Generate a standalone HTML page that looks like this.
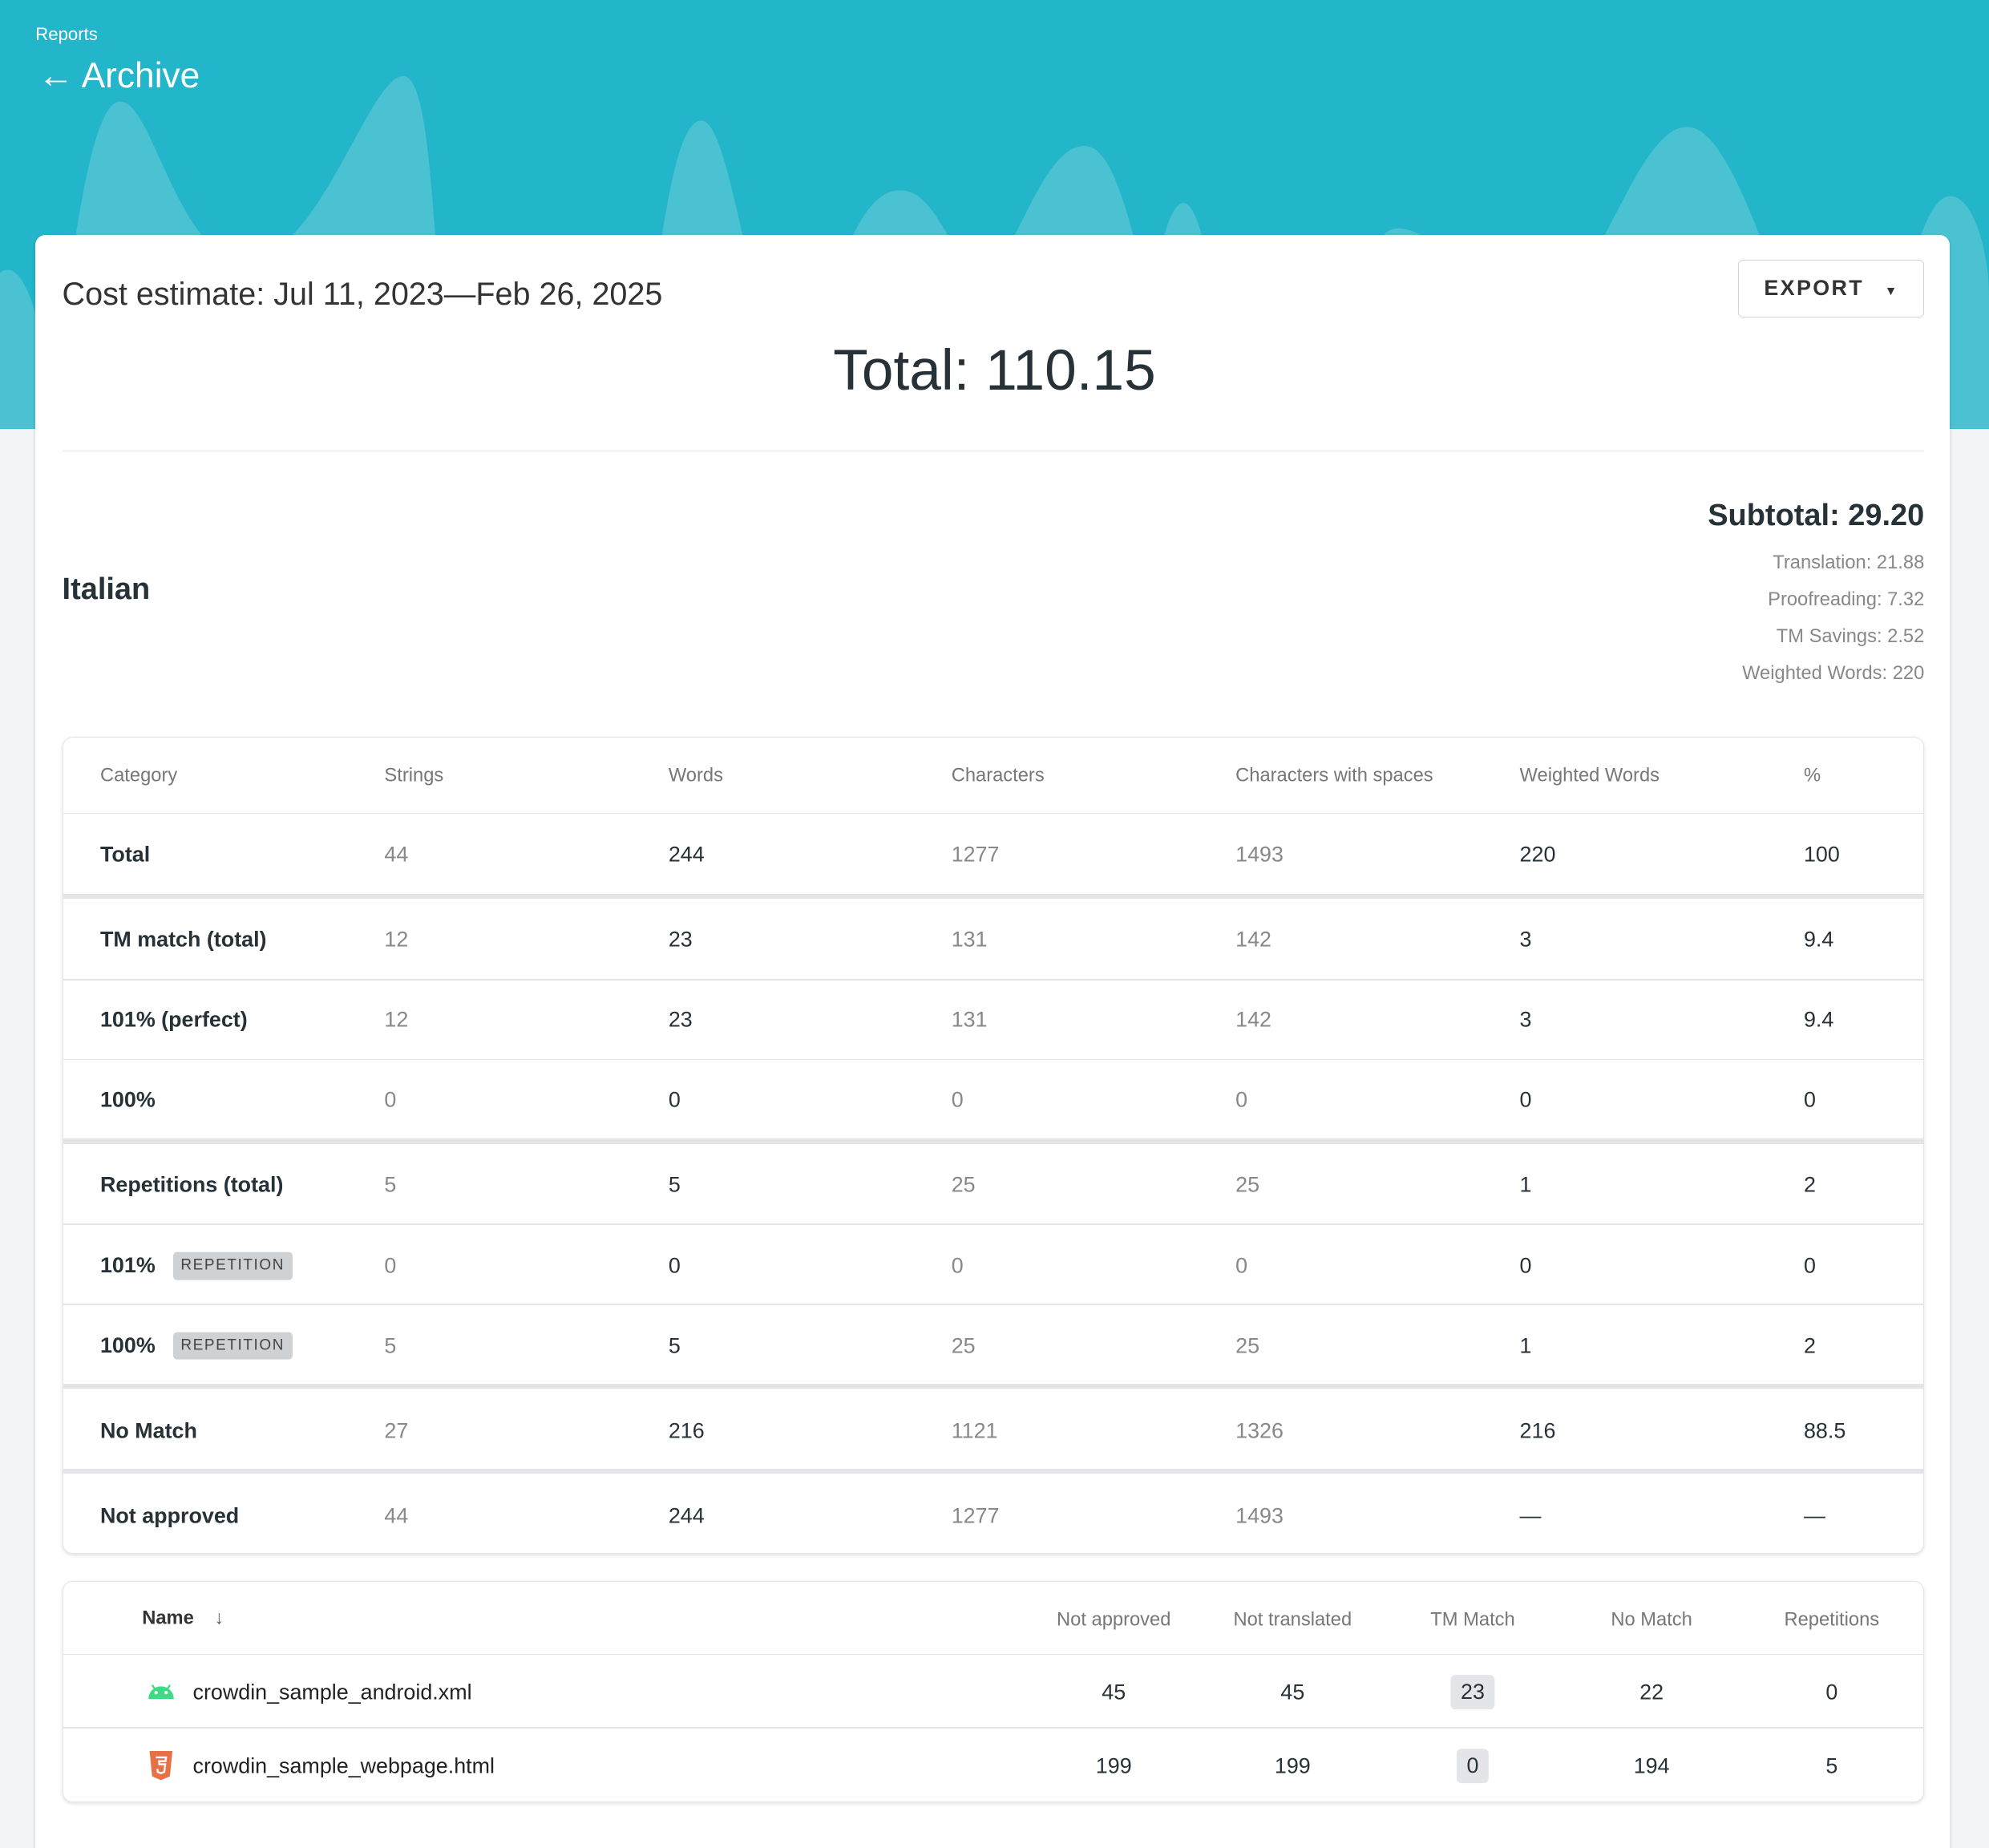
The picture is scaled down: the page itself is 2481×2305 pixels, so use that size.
<!DOCTYPE html>
<html><head><meta charset="utf-8"><style>
*{margin:0;padding:0;box-sizing:border-box}
html,body{width:2481px;height:2305px;overflow:hidden;background:#f3f4f6}
#w{zoom:1.58227;width:1568px;height:1457px;position:relative;font-family:"Liberation Sans",sans-serif;color:#263238}
.a{position:absolute;white-space:nowrap}
.hdr{position:absolute;left:0;top:0;width:1568px;height:338px;background:#23b5c9;overflow:hidden}
.card{position:absolute;left:28px;top:185px;width:1509px;height:1290px;background:#fff;border-radius:8px;box-shadow:0 1px 3px rgba(0,0,0,.15)}
.tbl{position:absolute;left:49px;width:1468px;background:#fff;border:1px solid #e3e5e8;border-radius:8px;box-shadow:0 1px 3px rgba(0,0,0,.12)}
.ln{position:absolute;left:0;width:100%;height:1px;background:#e3e5e8}
.th{position:absolute;left:0;width:100%;height:4px;background:#e3e5e8}
.c{position:absolute;transform:translateY(-50%);font-size:17px;white-space:nowrap}
.ctr{position:absolute;transform:translate(-50%,-50%);font-size:17px;white-space:nowrap}
.g{color:#888}
.b{font-weight:bold;color:#263238}
.hd{color:#777;font-size:15px}
.tag{display:inline-block;background:#cfd2d5;color:#444;font-size:12px;letter-spacing:1px;padding:4px 6px;border-radius:3px;margin-left:14px;vertical-align:2px;font-weight:normal}
</style></head><body><div id="w">
<div class="hdr">
<svg width="1568" height="338" style="position:absolute;left:0;top:0">
<g fill="#fff" fill-opacity=".18">
<path d="M0,215 C20,200 35,260 45,338 L0,338Z"/>
<path d="M40,338 C60,160 75,80 95,80 C120,80 140,200 190,205 C250,210 290,60 318,60 C345,60 340,250 360,338Z"/>
<path d="M500,338 C520,200 530,95 553,95 C575,95 590,240 625,338Z"/>
<path d="M625,338 C660,200 680,150 710,150 C740,150 750,210 775,215 C800,210 820,115 855,115 C890,115 900,250 940,338Z"/>
<path d="M880,338 C905,260 915,160 933,160 C950,160 960,260 985,338Z"/>
<path d="M1050,338 C1070,230 1080,180 1102,180 C1130,180 1170,230 1225,230 C1260,230 1290,100 1330,100 C1380,100 1420,338 1470,338Z"/>
<path d="M1475,338 C1500,230 1515,160 1535,155 C1555,150 1568,200 1568,230 L1568,338Z"/>
</g></svg>
<div class="a" style="left:28px;top:19px;font-size:14px;color:#fff">Reports</div>
<div class="a" style="left:30px;top:44px;font-size:28px;color:#fff">← Archive</div>
</div>
<div class="card"></div>
<div class="a" style="left:49px;top:218px;font-size:25px;color:#333">Cost estimate: Jul 11, 2023—Feb 26, 2025</div>
<div class="a" style="left:1370px;top:205px;width:147px;height:45px;border:1px solid #cfd2d5;border-radius:4px;font-size:17px;font-weight:bold;letter-spacing:1.5px;line-height:43px;padding-left:20px;color:#333">EXPORT <span style="font-size:10px;margin-left:10px">▼</span></div>
<div class="a" style="left:0;width:1568px;text-align:center;top:267px;font-size:45px;color:#263238">Total: 110.15</div>
<div class="a" style="left:49px;top:355px;width:1468px;height:1px;background:#e3e5e8"></div>
<div class="a" style="left:49px;top:451px;font-size:24px;font-weight:bold;color:#263238">Italian</div>
<div class="a" style="right:51px;top:393px;font-size:24px;font-weight:bold;text-align:right">Subtotal: 29.20</div>
<div class="a" style="right:51px;top:430px;font-size:15px;color:#888;text-align:right;line-height:29px">Translation: 21.88<br>Proofreading: 7.32<br>TM Savings: 2.52<br>Weighted Words: 220</div>

<div class="tbl" style="top:581px;height:644px">
<div class="ln" style="top:59px"></div>
<div class="th" style="top:123px"></div>
<div class="ln" style="top:190px"></div>
<div class="ln" style="top:253px"></div>
<div class="th" style="top:316px"></div>
<div class="ln" style="top:383px"></div>
<div class="ln" style="top:446px"></div>
<div class="th" style="top:509px"></div>
<div class="th" style="top:576px"></div>
</div>
<div id="t1"></div>

<div class="tbl" style="top:1246px;height:175px">
<div class="ln" style="top:57px"></div>
<div class="ln" style="top:115px"></div>
</div>
<div class="c hd b" style="left:112px;top:1276px;color:#333">Name <span style="margin-left:12px;color:#666">↓</span></div>
<div class="ctr hd" style="left:878px;top:1277px">Not approved</div>
<div class="ctr hd" style="left:1019px;top:1277px">Not translated</div>
<div class="ctr hd" style="left:1161px;top:1277px">TM Match</div>
<div class="ctr hd" style="left:1302px;top:1277px">No Match</div>
<div class="ctr hd" style="left:1444px;top:1277px">Repetitions</div>
<svg class="a" style="left:115px;top:1325px" width="24" height="16"><path d="M2,14 A10,10 0 0 1 22,14 Z" fill="#3ddc84"/><circle cx="8" cy="9" r="1.3" fill="#fff"/><circle cx="16" cy="9" r="1.3" fill="#fff"/><path d="M5,3 L7,6 M19,3 L17,6" stroke="#3ddc84" stroke-width="1.5"/></svg>
<div class="c" style="left:152px;top:1334px;color:#222">crowdin_sample_android.xml</div>
<svg class="a" style="left:117px;top:1380px" width="20" height="24"><path d="M1,0 H19 L17,20 L10,23 L3,20 Z" fill="#e96f44"/><path d="M6,5 H14 L13.5,8 H8.5 L8.7,10.5 H13.3 L12.6,16.5 L10,17.5 L7.4,16.5 L7.2,14" fill="none" stroke="#fff" stroke-width="1.5"/></svg>
<div class="c" style="left:152px;top:1392px;color:#222">crowdin_sample_webpage.html</div>
<div class="ctr" style="left:878px;top:1334px">45</div><div class="ctr" style="left:1019px;top:1334px">45</div>
<div class="ctr" style="left:1161px;top:1334px;background:#e3e5e8;padding:4px 8px;border-radius:4px">23</div>
<div class="ctr" style="left:1302px;top:1334px">22</div><div class="ctr" style="left:1444px;top:1334px">0</div>
<div class="ctr" style="left:878px;top:1392px">199</div><div class="ctr" style="left:1019px;top:1392px">199</div>
<div class="ctr" style="left:1161px;top:1392px;background:#e3e5e8;padding:4px 8px;border-radius:4px">0</div>
<div class="ctr" style="left:1302px;top:1392px">194</div><div class="ctr" style="left:1444px;top:1392px">5</div>

<script>
var xs=[79,303,527,750,974,1198,1422];
var h=["Category","Strings","Words","Characters","Characters with spaces","Weighted Words","%"];
var rows=[
[674,"Total","44","244","1277","1493","220","100"],
[741,"TM match (total)","12","23","131","142","3","9.4"],
[804,"101% (perfect)","12","23","131","142","3","9.4"],
[867,"100%","0","0","0","0","0","0"],
[934,"Repetitions (total)","5","5","25","25","1","2"],
[998,"101%<span class='tag'>REPETITION</span>","0","0","0","0","0","0"],
[1061,"100%<span class='tag'>REPETITION</span>","5","5","25","25","1","2"],
[1128,"No Match","27","216","1121","1326","216","88.5"],
[1195,"Not approved","44","244","1277","1493","—","—"]];
var s="";
h.forEach(function(t,i){s+='<div class="c hd" style="left:'+xs[i]+'px;top:612px">'+t+'</div>';});
rows.forEach(function(r){for(var i=1;i<8;i++){var cl=i==1?'b':(i==2||i==4||i==5)?'g':'';s+='<div class="c '+cl+'" style="left:'+xs[i-1]+'px;top:'+r[0]+'px">'+r[i]+'</div>';}});
document.getElementById("t1").outerHTML=s;
</script>
</div></body></html>
